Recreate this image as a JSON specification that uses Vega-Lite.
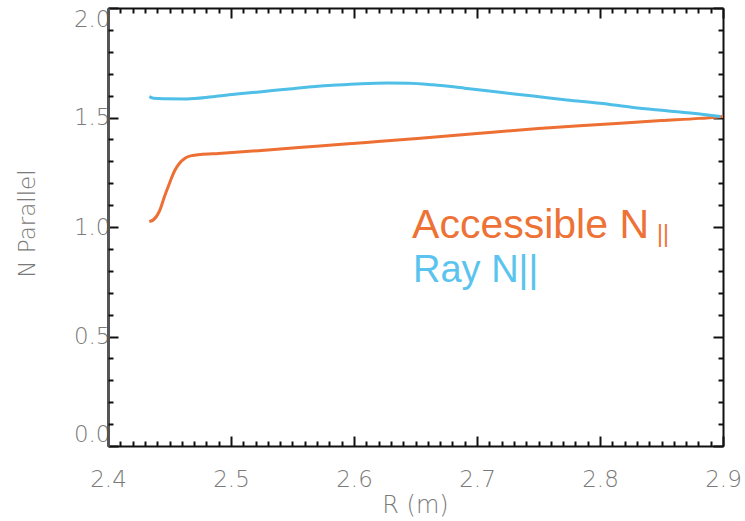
{
  "$schema": "https://vega.github.io/schema/vega-lite/v6.json",
  "width": 615,
  "height": 438,
  "autosize": {"type": "none"},
  "padding": {"left": 108, "top": 8, "right": 22, "bottom": 75},
  "background": "white",
  "config": {
    "view": {"stroke": null},
    "axis": {"grid": false, "labelFont": "DejaVu Sans", "titleFont": "DejaVu Sans", "labelColor": "#7a7a7a", "titleColor": "#7a7a7a", "labelFontWeight": 300, "titleFontWeight": 300, "tickColor": "#111", "tickWidth": 2}
  },
  "datasets": {
    "curves": [
      {"R": 2.4336, "N": 1.025, "series": "Accessible"},
      {"R": 2.437, "N": 1.033, "series": "Accessible"},
      {"R": 2.442, "N": 1.075, "series": "Accessible"},
      {"R": 2.446, "N": 1.14, "series": "Accessible"},
      {"R": 2.45, "N": 1.2, "series": "Accessible"},
      {"R": 2.4545, "N": 1.26, "series": "Accessible"},
      {"R": 2.458, "N": 1.29, "series": "Accessible"},
      {"R": 2.4626, "N": 1.314, "series": "Accessible"},
      {"R": 2.468, "N": 1.326, "series": "Accessible"},
      {"R": 2.475, "N": 1.331, "series": "Accessible"},
      {"R": 2.49, "N": 1.336, "series": "Accessible"},
      {"R": 2.53, "N": 1.352, "series": "Accessible"},
      {"R": 2.572, "N": 1.37, "series": "Accessible"},
      {"R": 2.61, "N": 1.386, "series": "Accessible"},
      {"R": 2.654, "N": 1.405, "series": "Accessible"},
      {"R": 2.7, "N": 1.427, "series": "Accessible"},
      {"R": 2.75, "N": 1.45, "series": "Accessible"},
      {"R": 2.8, "N": 1.468, "series": "Accessible"},
      {"R": 2.85, "N": 1.486, "series": "Accessible"},
      {"R": 2.881, "N": 1.496, "series": "Accessible"},
      {"R": 2.9, "N": 1.505, "series": "Accessible"},
      {"R": 2.4336, "N": 1.595, "series": "Ray"},
      {"R": 2.437, "N": 1.588, "series": "Ray"},
      {"R": 2.445, "N": 1.586, "series": "Ray"},
      {"R": 2.464, "N": 1.585, "series": "Ray"},
      {"R": 2.485, "N": 1.595, "series": "Ray"},
      {"R": 2.5046, "N": 1.607, "series": "Ray"},
      {"R": 2.525, "N": 1.618, "series": "Ray"},
      {"R": 2.545, "N": 1.629, "series": "Ray"},
      {"R": 2.566, "N": 1.64, "series": "Ray"},
      {"R": 2.586, "N": 1.648, "series": "Ray"},
      {"R": 2.606, "N": 1.654, "series": "Ray"},
      {"R": 2.627, "N": 1.657, "series": "Ray"},
      {"R": 2.645, "N": 1.656, "series": "Ray"},
      {"R": 2.664, "N": 1.649, "series": "Ray"},
      {"R": 2.69, "N": 1.634, "series": "Ray"},
      {"R": 2.7187, "N": 1.615, "series": "Ray"},
      {"R": 2.7458, "N": 1.598, "series": "Ray"},
      {"R": 2.773, "N": 1.58, "series": "Ray"},
      {"R": 2.8, "N": 1.565, "series": "Ray"},
      {"R": 2.827, "N": 1.546, "series": "Ray"},
      {"R": 2.854, "N": 1.531, "series": "Ray"},
      {"R": 2.881, "N": 1.516, "series": "Ray"},
      {"R": 2.898, "N": 1.505, "series": "Ray"}
    ],
    "labels": [
      {"R": 2.6472, "N": 0.95, "text": "Accessible N", "series": "Accessible", "size": "big"},
      {"R": 2.8463, "N": 0.9315, "text": "||", "series": "Accessible", "size": "sub"},
      {"R": 2.648, "N": 0.749, "text": "Ray N||", "series": "Ray", "size": "ray"}
    ]
  },
  "layer": [
    {
      "data": {"name": "curves"},
      "transform": [{"filter": "datum.series === 'Accessible'"}],
      "mark": {"type": "line", "color": "#ED6F33", "strokeWidth": 3, "interpolate": "monotone"},
      "encoding": {
        "x": {"field": "R", "type": "quantitative", "scale": {"domain": [2.4, 2.9], "zero": false, "nice": false},
          "axis": {"orient": "bottom", "values": [2.4, 2.5, 2.6, 2.7, 2.8, 2.9], "format": ".1f", "tickSize": -10, "labelPadding": 50, "labelBaseline": "alphabetic", "labelFontSize": 23, "labelFlush": false, "title": "R (m)", "titleFontSize": 24, "titleX": 307, "titleY": 66, "titleBaseline": "alphabetic", "domainColor": "#111", "domainWidth": 2}},
        "y": {"field": "N", "type": "quantitative", "scale": {"domain": [0, 2], "nice": false},
          "axis": {"orient": "left", "values": [0, 0.5, 1, 1.5, 2], "format": ".1f", "tickSize": -10, "labelPadding": 8, "labelFontSize": 23, "labelFlush": true, "labelFlushOffset": 0, "title": "N Parallel", "titleFontSize": 23, "titleAngle": -90, "titleX": -74, "titleY": 215, "titleAlign": "center", "titleBaseline": "alphabetic", "domainColor": "#555", "domainWidth": 3}}
      }
    },
    {
      "data": {"name": "curves"},
      "transform": [{"filter": "datum.series === 'Ray'"}],
      "mark": {"type": "line", "color": "#4FBFE7", "strokeWidth": 3, "interpolate": "monotone"},
      "encoding": {
        "x": {"field": "R", "type": "quantitative", "scale": {"domain": [2.4, 2.9], "zero": false, "nice": false},
          "axis": {"orient": "bottom", "values": [2.41, 2.42, 2.43, 2.44, 2.45, 2.46, 2.47, 2.48, 2.49, 2.51, 2.52, 2.53, 2.54, 2.55, 2.56, 2.57, 2.58, 2.59, 2.61, 2.62, 2.63, 2.64, 2.65, 2.66, 2.67, 2.68, 2.69, 2.71, 2.72, 2.73, 2.74, 2.75, 2.76, 2.77, 2.78, 2.79, 2.81, 2.82, 2.83, 2.84, 2.85, 2.86, 2.87, 2.88, 2.89], "tickSize": -5, "labels": false, "domain": false, "title": null}},
        "y": {"field": "N", "type": "quantitative",
          "axis": {"orient": "left", "values": [0.1, 0.2, 0.3, 0.4, 0.6, 0.7, 0.8, 0.9, 1.1, 1.2, 1.3, 1.4, 1.6, 1.7, 1.8, 1.9], "tickSize": -5, "labels": false, "domain": false, "title": null}}
      }
    },
    {
      "data": {"name": "labels"},
      "transform": [{"filter": "datum.size === 'big'"}],
      "mark": {"type": "text", "color": "#EE7235", "font": "Liberation Sans", "fontSize": 41, "align": "left", "baseline": "alphabetic"},
      "encoding": {
        "text": {"field": "text"},
        "x": {"field": "R", "type": "quantitative",
          "axis": {"orient": "top", "values": [2.4, 2.5, 2.6, 2.7, 2.8, 2.9], "tickSize": -10, "labels": false, "title": null, "domainColor": "#111", "domainWidth": 2}},
        "y": {"field": "N", "type": "quantitative",
          "axis": {"orient": "right", "values": [0, 0.5, 1, 1.5, 2], "tickSize": -10, "labels": false, "title": null, "domainColor": "#111", "domainWidth": 2}}
      }
    },
    {
      "data": {"name": "labels"},
      "transform": [{"filter": "datum.size === 'ray'"}],
      "mark": {"type": "text", "color": "#5BC4EE", "font": "Liberation Sans", "fontSize": 38, "align": "left", "baseline": "alphabetic"},
      "encoding": {
        "text": {"field": "text"},
        "x": {"field": "R", "type": "quantitative",
          "axis": {"orient": "top", "values": [2.41, 2.42, 2.43, 2.44, 2.45, 2.46, 2.47, 2.48, 2.49, 2.51, 2.52, 2.53, 2.54, 2.55, 2.56, 2.57, 2.58, 2.59, 2.61, 2.62, 2.63, 2.64, 2.65, 2.66, 2.67, 2.68, 2.69, 2.71, 2.72, 2.73, 2.74, 2.75, 2.76, 2.77, 2.78, 2.79, 2.81, 2.82, 2.83, 2.84, 2.85, 2.86, 2.87, 2.88, 2.89], "tickSize": -5, "labels": false, "domain": false, "title": null}},
        "y": {"field": "N", "type": "quantitative",
          "axis": {"orient": "right", "values": [0.1, 0.2, 0.3, 0.4, 0.6, 0.7, 0.8, 0.9, 1.1, 1.2, 1.3, 1.4, 1.6, 1.7, 1.8, 1.9], "tickSize": -5, "labels": false, "domain": false, "title": null}}
      }
    },
    {
      "data": {"name": "labels"},
      "transform": [{"filter": "datum.size === 'sub'"}],
      "mark": {"type": "text", "color": "#EE7235", "font": "Liberation Sans", "fontSize": 23, "align": "left", "baseline": "alphabetic"},
      "encoding": {
        "text": {"field": "text"},
        "x": {"field": "R", "type": "quantitative", "axis": null},
        "y": {"field": "N", "type": "quantitative", "axis": null}
      }
    }
  ],
  "resolve": {"axis": {"x": "independent", "y": "independent"}}
}
